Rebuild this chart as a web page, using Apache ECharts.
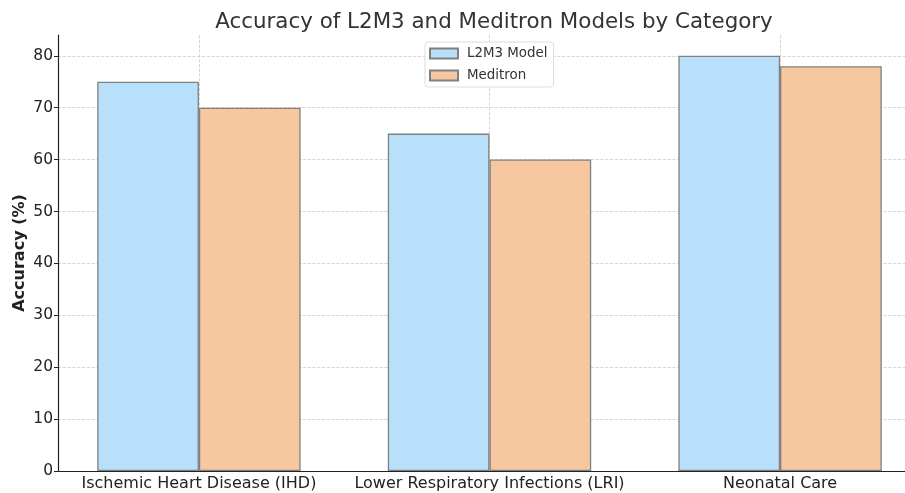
<!DOCTYPE html>
<html>
<head>
<meta charset="utf-8">
<script src="https://cdn.jsdelivr.net/npm/echarts@6/dist/echarts.min.js"></script>
<style>
  html, body { margin: 0; padding: 0; background: #fff; }
  #chart { width: 905px; height: 493px; }
</style>
</head>
<body>
<div id="chart"></div>
<script>
const categories = ['Ischemic Heart Disease (IHD)', 'Lower Respiratory Infections (LRI)', 'Neonatal Care']
const l2m3 = [75, 65, 80]
const meditron = [70, 60, 78]
const yTicks = [0, 10, 20, 30, 40, 50, 60, 70, 80]

const chart = echarts.init(document.getElementById('chart'))

const font = 'DejaVu Sans'
const positions = categories.map((_, i) => i)

chart.setOption({
  animation: false,
  textStyle: { fontFamily: font },
  title: {
    text: 'Accuracy of L2M3 and Meditron Models by Category',
    left: 489,
    textAlign: 'center',
    top: 7,
    textStyle: { fontFamily: font, fontSize: 21.4, fontWeight: 'normal', color: '#333' },
  },
  legend: {
    orient: 'vertical',
    left: 425,
    top: 42,
    icon: 'rect',
    itemWidth: 28,
    itemHeight: 10,
    itemGap: 9,
    padding: [5, 6, 5, 4],
    backgroundColor: '#fff',
    borderColor: '#ddd',
    borderWidth: 1,
    borderRadius: 3,
    textStyle: { fontFamily: font, fontSize: 13.4, color: '#333', padding: [0, 0, 0, 4] },
    data: ['L2M3 Model', 'Meditron'],
  },
  grid: { left: 58, width: 863, top: 35, bottom: 22, outerBoundsMode: 'none' },
  xAxis: {
    type: 'value',
    min: -0.485,
    max: 2.485,
    axisLine: { onZero: false, lineStyle: { color: '#222', width: 1.2 } },
    axisTick: { show: false, customValues: positions },
    axisLabel: {
      customValues: positions,
      formatter: (v) => categories[Math.round(v)] || '',
      fontFamily: font,
      fontSize: 16,
      color: '#222',
      margin: 5,
    },
    splitLine: { show: true, lineStyle: { type: 'dashed', color: '#ccc', width: 0.8 } },
  },
  yAxis: {
    type: 'value',
    min: 0,
    max: 84,
    interval: 10,
    name: 'Accuracy (%)',
    nameLocation: 'middle',
    nameGap: 30,
    nameMoveOverlap: false,
    nameTextStyle: { fontFamily: font, fontSize: 16, fontWeight: 'bold', color: '#222' },
    axisLine: { show: true, onZero: false, lineStyle: { color: '#222', width: 1.2 } },
    axisTick: { show: true, length: 4, customValues: yTicks, lineStyle: { color: '#222' } },
    axisLabel: {
      customValues: yTicks,
      fontFamily: font,
      fontSize: 15.5,
      color: '#222',
      margin: 5,
    },
    splitLine: { show: true, lineStyle: { type: 'dashed', color: '#ccc', width: 0.8 } },
  },
  series: [
    {
      name: 'L2M3 Model',
      type: 'bar',
      data: l2m3.map((v, i) => [positions[i], v]),
      barWidth: 101.7,
      barGap: '0%',
      itemStyle: { color: '#b8e0fb', borderColor: '#808080', borderWidth: 1.3 },
    },
    {
      name: 'Meditron',
      type: 'bar',
      data: meditron.map((v, i) => [positions[i], v]),
      barWidth: 101.7,
      barGap: '0%',
      itemStyle: { color: '#f7c8a0', borderColor: '#808080', borderWidth: 1.3 },
    },
  ],
})
</script>
</body>
</html>
